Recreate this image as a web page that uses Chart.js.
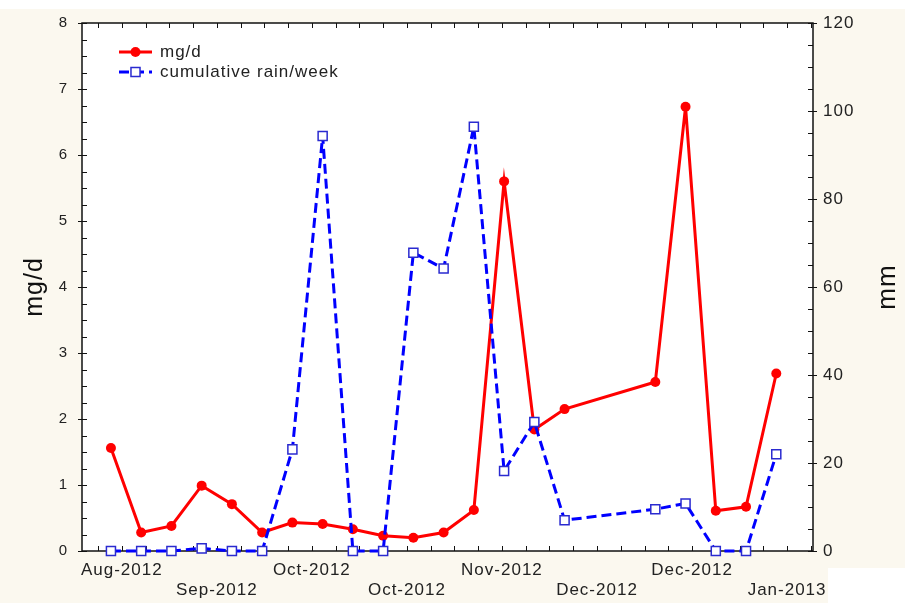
<!DOCTYPE html>
<html>
<head>
<meta charset="utf-8">
<script src="https://cdn.jsdelivr.net/npm/chart.js@4.4.0/dist/chart.umd.min.js"></script>
<style>
  html, body { margin: 0; padding: 0; background: #fff; }
  #wrap { width: 905px; height: 603px; position: relative; }
</style>
</head>
<body>
<div id="wrap"><canvas id="rainChart"></canvas></div>
<script>
// Weekly samples, counted in weeks from the first one (mid Aug-2012)
const sampleWeeks = [0, 1, 2, 3, 4, 5, 6, 7, 8, 9, 10, 11, 12, 13, 14, 15, 18, 19, 20, 21, 22];
const mgPerDay = [1.56, 0.28, 0.38, 0.99, 0.71, 0.28, 0.43, 0.41, 0.33, 0.23, 0.2, 0.28, 0.62, 5.6, 1.84, 2.15, 2.56, 6.73, 0.61, 0.67, 2.69];
const rainPerWeek = [0, 0, 0, 0.6, 0, 0, 23.1, 94.3, 0, 0, 67.8, 64.2, 96.4, 18.2, 29.3, 7.0, 9.5, 10.8, 0, 0, 22.0];

// Date axis labels (days from first sample) and their text
const xTickDays = [2.5, 24.5, 46.5, 68.5, 90.5, 112.5, 134.5, 156.5];
const xTickLabels = ["Aug-2012", "Sep-2012", "Oct-2012", "Oct-2012", "Nov-2012", "Dec-2012", "Dec-2012", "Jan-2013"];
const xMinorStep = 5.5;

const FONT = "'Liberation Sans', Arial, sans-serif";
const INK = "#222";

// Background: cream page, white plot area
const backdrop = {
  id: "backdrop",
  beforeDraw(chart) {
    const { ctx, width, height, chartArea: a } = chart;
    ctx.save();
    ctx.fillStyle = "#ffffff";
    ctx.fillRect(0, 0, width, height);
    ctx.fillStyle = "#fbf8ef";
    ctx.fillRect(0, 9, width, height - 9);
    ctx.fillStyle = "#ffffff";
    ctx.fillRect(828, 568, width - 828, height - 568);
    ctx.fillRect(a.left, a.top, a.right - a.left, a.bottom - a.top);
    ctx.restore();
    ctx.letterSpacing = "1px";
  },
};

// Box around the plot plus inward tick marks on all four sides
const frameTicks = {
  id: "frameTicks",
  beforeDatasetsDraw(chart) {
    const { ctx, chartArea: a, scales } = chart;
    ctx.save();
    ctx.strokeStyle = "#111";
    ctx.lineWidth = 1.5;
    ctx.strokeRect(a.left, a.top, a.right - a.left, a.bottom - a.top);
    ctx.lineWidth = 1;
    ctx.beginPath();
    for (let i = 0; i <= 32; i++) {
      const v = i * 0.25;
      const y = Math.round(scales.y.getPixelForValue(v)) + 0.5;
      ctx.moveTo(a.left - (i % 4 === 0 ? 4 : 0), y);
      ctx.lineTo(a.left + 5, y);
    }
    for (let i = 0; i <= 24; i++) {
      const y = Math.round(scales.y1.getPixelForValue(i * 5)) + 0.5;
      ctx.moveTo(a.right + (i % 4 === 0 ? 4 : 0), y);
      ctx.lineTo(a.right - 5, y);
    }
    for (let d = xTickDays[0] - xMinorStep; d <= scales.x.max; d += xMinorStep) {
      if (d < scales.x.min) continue;
      const x = Math.round(scales.x.getPixelForValue(d)) + 0.5;
      ctx.moveTo(x, a.bottom);
      ctx.lineTo(x, a.bottom - 5);
      ctx.moveTo(x, a.top);
      ctx.lineTo(x, a.top + 5);
    }
    ctx.stroke();
    ctx.restore();
  },
};

// Legend inside the plot: line sample with its marker
const lineLegend = {
  id: "lineLegend",
  afterDraw(chart) {
    const { ctx, chartArea: a } = chart;
    const x0 = a.left + 37;
    const x1 = a.left + 70;
    const xm = (x0 + x1) / 2;
    chart.data.datasets.forEach((ds, i) => {
      const y = a.top + 29 + i * 20;
      ctx.save();
      ctx.strokeStyle = ds.borderColor;
      ctx.lineWidth = ds.borderWidth;
      ctx.setLineDash(ds.borderDash || []);
      ctx.beginPath();
      ctx.moveTo(x0, y);
      ctx.lineTo(x1, y);
      ctx.stroke();
      ctx.setLineDash([]);
      ctx.fillStyle = ds.pointBackgroundColor;
      ctx.strokeStyle = ds.pointBorderColor;
      ctx.lineWidth = ds.pointBorderWidth;
      ctx.beginPath();
      if (ds.pointStyle === "rect") {
        const s = ds.pointRadius * Math.SQRT1_2;
        ctx.rect(xm - s, y - s, 2 * s, 2 * s);
      } else {
        ctx.arc(xm, y, ds.pointRadius, 0, Math.PI * 2);
      }
      ctx.fill();
      if (ds.pointBorderWidth > 0) ctx.stroke();
      ctx.fillStyle = INK;
      ctx.font = "17px " + FONT;
      ctx.textBaseline = "middle";
      ctx.textAlign = "left";
      ctx.fillText(ds.label, a.left + 78, y);
      ctx.restore();
    });
  },
};

// Right axis title, reading bottom to top like the left one
const rightTitle = {
  id: "rightTitle",
  afterDraw(chart) {
    const { ctx, chartArea: a, scales } = chart;
    ctx.save();
    ctx.translate(scales.y1.right - 17, (a.top + a.bottom) / 2);
    ctx.rotate(-Math.PI / 2);
    ctx.fillStyle = "#111";
    ctx.font = "26px " + FONT;
    ctx.textAlign = "center";
    ctx.textBaseline = "middle";
    ctx.fillText("mm", 0, 0);
    ctx.restore();
  },
};

const ctx = document.getElementById("rainChart").getContext("2d");
const rainChart = new Chart(ctx, {
  type: "line",
  data: {
    datasets: [
      {
        label: "mg/d",
        data: sampleWeeks.map((w, i) => ({ x: w * 7, y: mgPerDay[i] })),
        yAxisID: "y",
        order: 1,
        borderColor: "#ff0000",
        borderWidth: 3,
        pointStyle: "circle",
        pointRadius: 5,
        pointBackgroundColor: "#ff0000",
        pointBorderColor: "#ff0000",
        pointBorderWidth: 0,
        tension: 0,
        clip: false,
      },
      {
        label: "cumulative rain/week",
        data: sampleWeeks.map((w, i) => ({ x: w * 7, y: rainPerWeek[i] })),
        yAxisID: "y1",
        order: 0,
        borderColor: "#0000ff",
        borderWidth: 3,
        borderDash: [10, 5],
        pointStyle: "rect",
        pointRadius: 6.4,
        pointBackgroundColor: "#ffffff",
        pointBorderColor: "#2a2ad0",
        pointBorderWidth: 1.5,
        tension: 0,
        clip: false,
      },
    ],
  },
  options: {
    responsive: true,
    maintainAspectRatio: false,
    animation: false,
    layout: { padding: { top: 23, left: 0, right: 0, bottom: 0 } },
    plugins: {
      legend: { display: false },
      tooltip: { enabled: false },
    },
    scales: {
      x: {
        type: "linear",
        min: -6.7,
        max: 162.5,
        grid: { display: false, drawTicks: false },
        border: { display: false },
        afterBuildTicks: (scale) => {
          scale.ticks = xTickDays.map((d) => ({ value: d }));
        },
        afterFit: (scale) => {
          scale.height = 52;
        },
        ticks: {
          autoSkip: false,
          maxRotation: 0,
          minRotation: 0,
          padding: 9,
          color: INK,
          font: { family: FONT, size: 17, lineHeight: "20px" },
          callback: (value, index) => (index % 2 ? ["", xTickLabels[index]] : xTickLabels[index]),
        },
      },
      y: {
        position: "left",
        min: 0,
        max: 8,
        grid: { display: false, drawTicks: false },
        border: { display: false },
        afterFit: (scale) => {
          scale.width = 82;
        },
        ticks: {
          stepSize: 1,
          padding: 14,
          color: INK,
          font: { family: FONT, size: 15 },
        },
        title: {
          display: true,
          text: "mg/d",
          color: "#111",
          padding: { top: 20, bottom: 0 },
          font: { family: FONT, size: 25, lineHeight: 1.2 },
        },
      },
      y1: {
        position: "right",
        min: 0,
        max: 120,
        grid: { display: false, drawTicks: false },
        border: { display: false },
        afterFit: (scale) => {
          scale.width = 92;
        },
        ticks: {
          stepSize: 20,
          padding: 10,
          color: INK,
          font: { family: FONT, size: 17 },
        },
      },
    },
  },
  plugins: [backdrop, frameTicks, lineLegend, rightTitle],
});
</script>
</body>
</html>
